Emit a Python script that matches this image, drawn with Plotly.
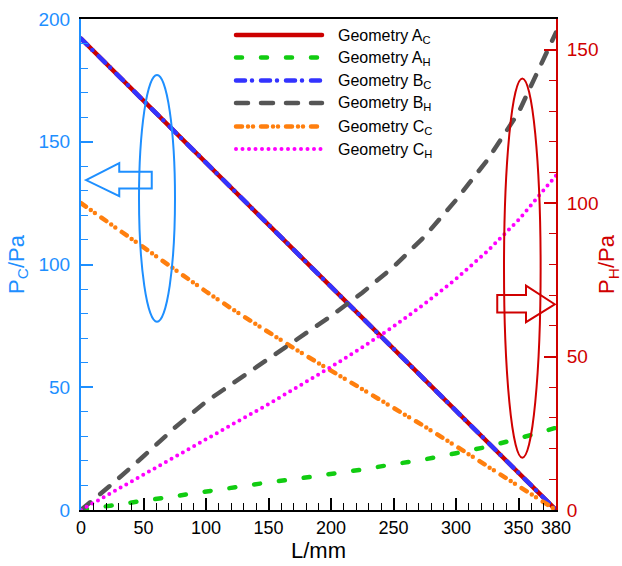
import plotly.graph_objects as go

# Position along the channel, mm
L_MM = [0, 25, 50, 75, 100, 125, 150, 175, 200, 225, 250, 275, 300, 325, 350, 380]

# Cold-side pressure, Pa (left axis)
P_A_C = [192, 179.4, 166.8, 154.2, 141.5, 128.9, 116.2, 103.6, 91.0, 78.3, 65.7, 53.0, 40.4, 27.8, 15.2, 0]
P_B_C = [192, 179.4, 166.8, 154.2, 141.5, 128.9, 116.2, 103.6, 91.0, 78.3, 65.7, 53.0, 40.4, 27.8, 15.2, 0]
P_C_C = [125, 116, 106.8, 97.7, 89, 80.5, 72.3, 64.4, 56.8, 49.3, 41.7, 34, 26, 17.8, 9.5, 0]

# Hot-side pressure, Pa (right axis)
P_A_H = [0, 1.5, 3.3, 4.8, 6.2, 7.7, 9.0, 10.3, 11.7, 13.2, 14.9, 16.5, 18.5, 20.6, 23.3, 26.8]
P_B_H = [0, 8.5, 17.5, 26.8, 35.3, 42.3, 49.2, 56, 63.2, 70.8, 79.2, 89.2, 101, 114, 129.5, 155.6]
P_C_H = [0, 5.8, 11.7, 17.5, 23.2, 28.8, 34.5, 40.4, 46.6, 53, 59.8, 67.2, 75.3, 84.3, 94.5, 109]

X_TICKS = [0, 50, 100, 150, 200, 250, 300, 350, 380]
YC_TICKS = [0, 50, 100, 150, 200]
YH_TICKS = [0, 50, 100, 150]

SERIES_NAMES = ["Geometry A<sub>C</sub>", "Geometry A<sub>H</sub>", "Geometry B<sub>C</sub>",
                "Geometry B<sub>H</sub>", "Geometry C<sub>C</sub>", "Geometry C<sub>H</sub>"]

BLUE = "#1E8FFF"
RED = "#D00000"
FONT = "Liberation Sans, Arial, Helvetica, sans-serif"

# (values, axis, colour, dash pattern, width)
series = [
    (P_A_C, "y", "#CC0000", "solid", 4.5),
    (P_A_H, "y2", "#11CC11", "6px,19px", 4.5),
    (P_B_C, "y", "#3333FF", "9px,7px,0px,9px", 4.5),
    (P_B_H, "y2", "#555555", "12px,13px", 4.5),
    (P_C_C, "y", "#FF7F0E", "6px,6px,0px,5px,0px,8px", 4.5),
    (P_C_H, "y2", "#FF00FF", "0px,6.5px", 4),
]

fig = go.Figure()
for (vals, ax, col, dash, w), name in zip(series, SERIES_NAMES):
    fig.add_trace(go.Scatter(x=L_MM, y=vals, yaxis=ax, mode="lines", name=name,
                             line=dict(color=col, dash=dash, width=w)))

# plot-area pixel box used for the hand-drawn legend
PX_L, PX_R, PX_T, PX_B = 81, 556, 19, 510


def px_to_paper(px, py):
    return (px - PX_L) / (PX_R - PX_L), (PX_B - py) / (PX_B - PX_T)


shapes = []
annotations = []
row_y = [35, 57.5, 80.5, 103, 126.5, 149]
for (vals, ax, col, dash, w), name, ry in zip(series, SERIES_NAMES, row_y):
    x0, y0 = px_to_paper(236, ry)
    x1, _ = px_to_paper(322, ry)
    shapes.append(dict(type="line", xref="paper", yref="paper", x0=x0, x1=x1, y0=y0, y1=y0,
                       line=dict(color=col, dash=dash, width=w), layer="above"))
    tx, ty = px_to_paper(336, ry + 1)
    annotations.append(dict(xref="paper", yref="paper", x=tx, y=ty, text=name, showarrow=False,
                            xanchor="left", yanchor="middle",
                            font=dict(size=16, color="black", family=FONT)))

# ellipse + arrow marking the cold-side curves (left axis)
shapes.append(dict(type="circle", xref="x", yref="y", x0=46.4, x1=75.2, y0=76.7, y1=177.2,
                   line=dict(color=BLUE, width=2)))
shapes.append(dict(type="path", xref="x", yref="y",
                   path="M 4 134.4 L 30.6 141.3 L 30.6 137.8 L 56.6 137.8 L 56.6 131.0 "
                        "L 30.6 131.0 L 30.6 127.8 Z",
                   line=dict(color=BLUE, width=2)))

# ellipse + arrow marking the hot-side curves (right axis)
shapes.append(dict(type="circle", xref="x", yref="y", x0=338.4, x1=367.7, y0=21.3, y1=175.8,
                   line=dict(color=RED, width=2)))
shapes.append(dict(type="path", xref="x", yref="y",
                   path="M 379 83.8 L 356 91.4 L 356 87.6 L 333 87.6 L 333 80.4 "
                        "L 356 80.4 L 356 76.5 Z",
                   line=dict(color=RED, width=2)))

fig.update_layout(
    width=622, height=566,
    margin=dict(l=PX_L, r=622 - PX_R, t=PX_T, b=566 - PX_B),
    plot_bgcolor="white", paper_bgcolor="white",
    showlegend=False,
    font=dict(family=FONT, size=19),
    shapes=shapes, annotations=annotations,
    xaxis=dict(
        range=[0, 380], tickmode="array", tickvals=X_TICKS, automargin=False,
        ticks="inside", ticklen=12, tickwidth=2, tickcolor="black",
        minor=dict(tick0=0, dtick=10, ticks="inside", ticklen=7, tickwidth=1, tickcolor="black"),
        showline=True, linecolor="black", linewidth=2, mirror=True,
        showgrid=False, zeroline=False,
        tickfont=dict(color="black", size=18), ticklabelstandoff=0,
        title=dict(text="L/mm", font=dict(size=22, color="black"), standoff=6),
    ),
    yaxis=dict(
        range=[0, 200], tickmode="array", tickvals=YC_TICKS, automargin=False,
        ticks="inside", ticklen=12, tickwidth=2, tickcolor=BLUE,
        minor=dict(tick0=0, dtick=10, ticks="inside", ticklen=7, tickwidth=1, tickcolor=BLUE),
        showline=True, linecolor=BLUE, linewidth=2,
        showgrid=False, zeroline=False,
        tickfont=dict(color=BLUE, size=19), ticklabelstandoff=5,
        title=dict(text="P<sub>C</sub>/Pa", font=dict(size=22, color=BLUE), standoff=8),
    ),
    yaxis2=dict(
        overlaying="y", side="right", automargin=False,
        range=[0, 160], tickmode="array", tickvals=YH_TICKS,
        ticks="inside", ticklen=12, tickwidth=2, tickcolor=RED,
        minor=dict(tick0=0, dtick=10, ticks="inside", ticklen=7, tickwidth=1, tickcolor=RED),
        showline=True, linecolor=RED, linewidth=2,
        showgrid=False, zeroline=False,
        tickfont=dict(color=RED, size=19), ticklabelstandoff=5,
        title=dict(text="P<sub>H</sub>/Pa", font=dict(size=22, color=RED), standoff=8),
    ),
)

# round line caps so dotted/dashed strokes get rounded ends
ROUND_CAPS = """
var gd = document.getElementById('{plot_id}');
gd.querySelectorAll('.scatterlayer path.js-line, .shapelayer path').forEach(function (p) {
    p.style.strokeLinecap = 'round';
});
"""

fig.write_html("out.html", post_script=ROUND_CAPS)
